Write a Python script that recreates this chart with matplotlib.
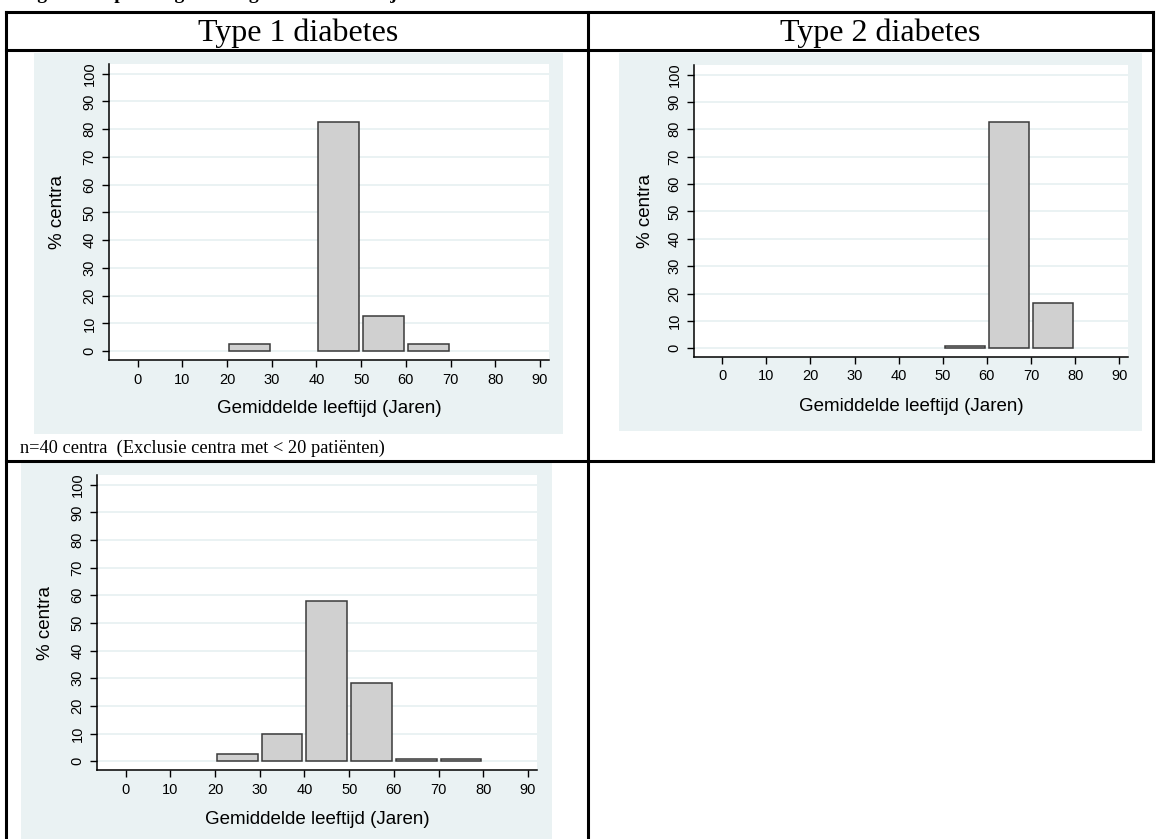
import matplotlib
matplotlib.use("Agg")
import matplotlib.pyplot as plt
from matplotlib.patches import Rectangle
from matplotlib.lines import Line2D

# ---------------- data ----------------
bin_starts = [0, 10, 20, 30, 40, 50, 60, 70, 80]
type1_pct = [0, 0, 2.5, 0, 82.5, 12.5, 2.5, 0, 0]
type2_pct = [0, 0, 0, 0, 0, 0.9, 82.6, 16.5, 0]
total_pct = [0, 0, 2.5, 10.0, 57.9, 28.3, 0.9, 0.9, 0]

x_ticks = [0, 10, 20, 30, 40, 50, 60, 70, 80, 90]
y_ticks = [0, 10, 20, 30, 40, 50, 60, 70, 80, 90, 100]

header_left = "Type 1 diabetes"
header_right = "Type 2 diabetes"
note_text = "n=40 centra  (Exclusie centra met < 20 patiënten)"
title_text = "Figuur 3: Spreiding van de gemiddelde leeftijd"
x_label = "Gemiddelde leeftijd (Jaren)"
y_label = "% centra"

# ---------------- figure ----------------
SANS = ["Liberation Sans", "DejaVu Sans"]
SERIF = ["Liberation Serif", "DejaVu Serif"]
plt.rcParams["font.family"] = SANS

W, H = 1158, 839
fig = plt.figure(figsize=(W / 100, H / 100), dpi=100)
fig.patch.set_facecolor("white")

PANEL = "#eaf2f3"
BAR = "#d0d0d0"
EDGE = "#3a3a3a"


def fx(px):
    return px / W


def fy(py):
    return 1 - py / H


def rect_px(x0, y0, x1, y1, **kw):
    fig.patches.append(Rectangle((fx(x0), fy(y1)), fx(x1) - fx(x0), fy(y0) - fy(y1),
                                 transform=fig.transFigure, **kw))


def line_px(x0, y0, x1, y1, lw=2.2):
    fig.lines.append(Line2D([fx(x0), fx(x1)], [fy(y0), fy(y1)], transform=fig.transFigure,
                            color="black", lw=lw, solid_capstyle="projecting", zorder=5))


def make_hist(axbox, values, ylab_x, xlab_y):
    x0, y0, x1, y1 = axbox
    ax = fig.add_axes([fx(x0), fy(y1), fx(x1) - fx(x0), fy(y0) - fy(y1)], zorder=2)
    ax.set_facecolor("white")
    for v in y_ticks:
        ax.axhline(v, color=PANEL, lw=1.4, zorder=0)
    centers = [b + 5 for b, v in zip(bin_starts, values) if v > 0]
    heights = [v for v in values if v > 0]
    ax.bar(centers, heights, width=9.1, color=BAR, edgecolor=EDGE, linewidth=1.1, zorder=2)
    ax.set_xlim(-6.4, 92)
    ax.set_ylim(-3.2, 103.5)
    ax.set_xticks(x_ticks)
    ax.set_yticks(y_ticks)
    ax.set_xticklabels([str(t) for t in x_ticks])
    ax.set_yticklabels([str(t) for t in y_ticks], rotation=90, va="center")
    ax.tick_params(axis="both", length=5, width=1, color="black", pad=4, labelsize=10.5)
    for s in ["top", "right"]:
        ax.spines[s].set_visible(False)
    for s in ["left", "bottom"]:
        ax.spines[s].set_linewidth(1.1)
    fig.text(fx(ylab_x), fy((y0 + y1) / 2), y_label, rotation=90, ha="center", va="center",
             fontsize=13.5, zorder=3)
    fig.text(fx((x0 + x1) / 2), fy(xlab_y), x_label, ha="center", va="center",
             fontsize=13.5, zorder=3)
    return ax


# panels (graph region backgrounds)
rect_px(34, 53, 563, 434, facecolor=PANEL, edgecolor="none", zorder=-1)
rect_px(619, 53, 1142, 431, facecolor=PANEL, edgecolor="none", zorder=-1)
rect_px(21, 463, 552, 839, facecolor=PANEL, edgecolor="none", zorder=-1)

make_hist((109, 64, 549, 360), type1_pct, 58, 409)
make_hist((694, 65, 1128, 357), type2_pct, 645, 407)
make_hist((97, 475, 537, 770), total_pct, 46, 820)

# table lines
line_px(6, 12, 1153, 12)
line_px(6, 50, 1153, 50)
line_px(6, 461, 1153, 461)
line_px(6, 12, 6, 839)
line_px(588, 12, 588, 839)
line_px(1153, 12, 1153, 461)

# header texts
fig.text(fx(298), fy(33), header_left, ha="center", va="center", fontsize=23, family=SERIF)
fig.text(fx(880), fy(33), header_right, ha="center", va="center", fontsize=23, family=SERIF)
fig.text(fx(20), fy(448), note_text, ha="left", va="center", fontsize=13.2, family=SERIF)
# title cut off by the top edge (only descenders visible)
fig.text(fx(20), fy(-1), title_text, ha="left", va="baseline", fontsize=14,
         family=SERIF, weight="bold")

fig.savefig("out.png", dpi=100, facecolor="white")
